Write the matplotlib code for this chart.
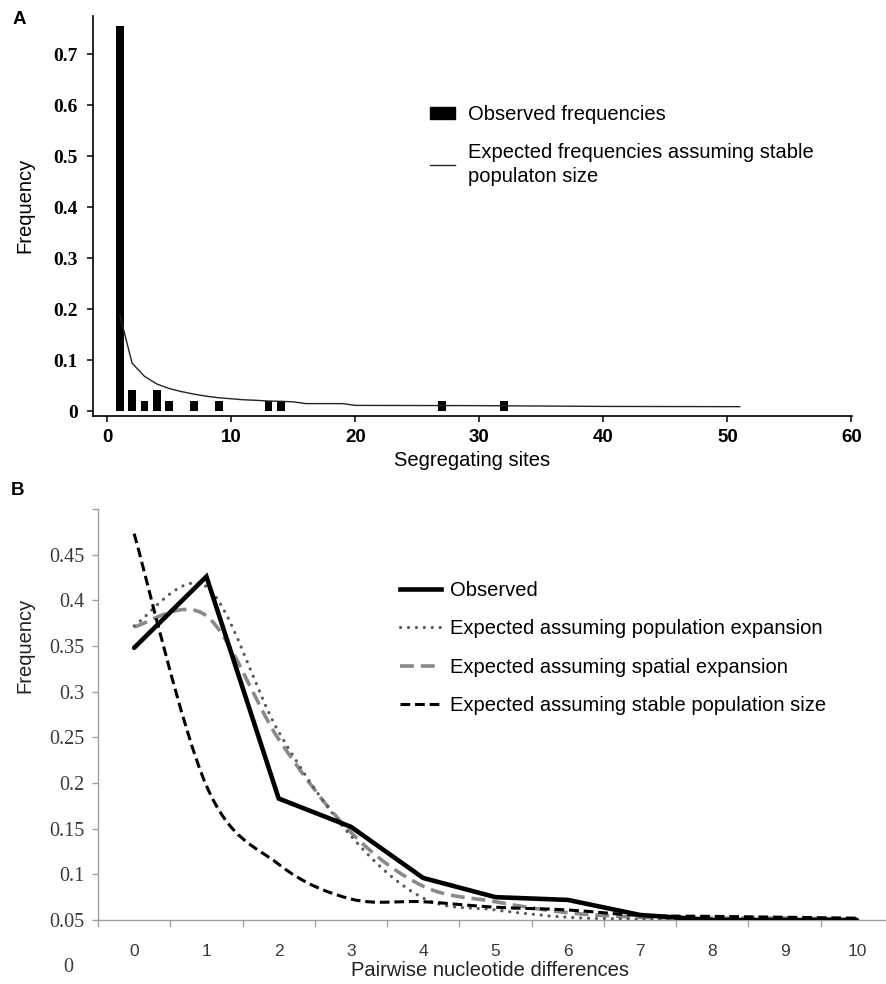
import numpy as np
import matplotlib
matplotlib.use("Agg")
import matplotlib.pyplot as plt
from matplotlib.path import Path
from matplotlib.patches import PathPatch, Patch
from matplotlib.lines import Line2D

plt.rcParams["lines.scale_dashes"] = False

W, H = 887, 984

# ---- panel A: segregating sites ----
seg_sites = [1, 2, 3, 4, 5, 7, 9, 13, 14, 27, 32]
seg_observed = [0.7551, 0.0408, 0.0204, 0.0408, 0.0204, 0.0204, 0.0204,
                0.0204, 0.0204, 0.0204, 0.0204]
seg_exp_x = [1, 2, 3, 4, 5, 6, 7, 8, 9, 10, 11, 12, 13, 14, 15, 16, 19, 20, 30, 40, 51]
seg_exp_y = [0.19, 0.094, 0.068, 0.053, 0.044, 0.038, 0.033, 0.029, 0.026, 0.024,
             0.022, 0.021, 0.0195, 0.019, 0.018, 0.0145, 0.0145, 0.011, 0.0105,
             0.009, 0.0085]
a_yticks = [0, 0.1, 0.2, 0.3, 0.4, 0.5, 0.6, 0.7]
a_xticks = [0, 10, 20, 30, 40, 50, 60]

# ---- panel B: mismatch distribution ----
diffs = [0, 1, 2, 3, 4, 5, 6, 7, 8, 9, 10]
mm_observed = [0.348, 0.426, 0.183, 0.152, 0.096, 0.075, 0.072, 0.0555, 0.05, 0.05, 0.05]
mm_pop_exp = [0.372, 0.415, 0.256, 0.142, 0.074, 0.061, 0.053, 0.051, 0.05, 0.05, 0.05]
mm_spatial = [0.371, 0.383, 0.248, 0.146, 0.087, 0.070, 0.058, 0.053, 0.052, 0.052, 0.051]
mm_stable = [0.473, 0.197, 0.111, 0.073, 0.070, 0.064, 0.061, 0.055, 0.054, 0.053, 0.052]
b_yticks = [0.05, 0.1, 0.15, 0.2, 0.25, 0.3, 0.35, 0.4, 0.45, 0.5]
b_ylabels = ["0.05", "0.1", "0.15", "0.2", "0.25", "0.3", "0.35", "0.4", "0.45", ""]

SERIF = "Liberation Serif"
SANS = "Liberation Sans"


def px_axes(left, top, right, bottom):
    return [left / W, 1 - bottom / H, (right - left) / W, (bottom - top) / H]


def smooth_path(x, y):
    """Excel-style smoothed line: Catmull-Rom segments as cubic Bezier."""
    x = np.asarray(x, float)
    y = np.asarray(y, float)
    n = len(x)
    verts = [(x[0], y[0])]
    codes = [Path.MOVETO]
    for i in range(n - 1):
        p0 = max(i - 1, 0)
        p3 = min(i + 2, n - 1)
        c1 = (x[i] + (x[i + 1] - x[p0]) / 6, y[i] + (y[i + 1] - y[p0]) / 6)
        c2 = (x[i + 1] - (x[p3] - x[i]) / 6, y[i + 1] - (y[p3] - y[i]) / 6)
        verts += [c1, c2, (x[i + 1], y[i + 1])]
        codes += [Path.CURVE4] * 3
    return Path(verts, codes)


fig = plt.figure(figsize=(W / 100, H / 100), dpi=100)

# Panel A
ax = fig.add_axes(px_axes(93, 16, 852, 416))
ax.bar(seg_sites, seg_observed, width=0.62, color="black", zorder=2)
ax.plot(seg_exp_x, seg_exp_y, color="#222222", linewidth=1.0, zorder=3)
ax.set_xlim(-1.15, 60.05)
ax.set_ylim(-0.0098, 0.775)
ax.spines[["top", "right"]].set_visible(False)
for s in ("left", "bottom"):
    ax.spines[s].set_linewidth(1.2)
ax.set_yticks(a_yticks)
ax.set_yticklabels(["0", "0.1", "0.2", "0.3", "0.4", "0.5", "0.6", "0.7"],
                   fontfamily=SERIF, fontweight="bold", fontsize=14)
ax.set_xticks(a_xticks)
ax.set_xticklabels([str(t) for t in a_xticks], fontfamily=SANS,
                   fontweight="bold", fontsize=13.5)
ax.tick_params(axis="y", length=4, width=1.1, pad=7)
ax.tick_params(axis="x", length=4.5, width=1.1, pad=5)
leg = ax.legend(
    handles=[Patch(facecolor="black", edgecolor="black"),
             Line2D([], [], color="#222222", linewidth=1.0)],
    labels=["Observed frequencies",
            "Expected frequencies assuming stable\npopulaton size"],
    loc="upper left", bbox_to_anchor=(430 / W, 1 - 105 / H),
    bbox_transform=fig.transFigure, frameon=False, borderpad=0,
    borderaxespad=0, handlelength=1.25, handleheight=0.5, handletextpad=0.65,
    labelspacing=0.95, prop={"family": SANS, "size": 14.5})
for t in leg.get_texts():
    t.set_linespacing(1.3)
fig.text(472 / W, 1 - 461 / H, "Segregating sites", ha="center", va="center",
         fontfamily=SANS, fontsize=14.5)
fig.text(25 / W, 1 - 205 / H, "Frequency", ha="center", va="center",
         rotation=90, fontfamily=SANS, fontsize=14.5)
fig.text(19 / W, 1 - 19 / H, "A", ha="center", va="center", fontfamily=SANS,
         fontweight="bold", fontsize=13.5)

# Panel B
bx = fig.add_axes(px_axes(98, 509, 893, 920))
bx.set_xlim(-0.5, 10.5)
bx.set_ylim(0.05, 0.5)

styles = [
    (mm_spatial, dict(edgecolor="#8a8a8a", linewidth=2.6, linestyle=(0, (10, 5)))),
    (mm_pop_exp, dict(edgecolor="#5a5a5a", linewidth=2.3, linestyle=(0, (0.1, 5.6)),
                      capstyle="round")),
    (mm_stable, dict(edgecolor="black", linewidth=2.2, linestyle=(0, (7, 3.5)))),
]
for vals, kw in styles:
    bx.add_patch(PathPatch(smooth_path(diffs, vals), facecolor="none", zorder=3, **kw))
bx.plot(diffs, mm_observed, color="black", linewidth=3.3, solid_joinstyle="miter",
        solid_capstyle="round", zorder=4)

for s in ("top", "right"):
    bx.spines[s].set_visible(False)
for s in ("left", "bottom"):
    bx.spines[s].set_color("#a0a0a0")
    bx.spines[s].set_linewidth(1.0)
bx.set_yticks(b_yticks)
bx.set_yticklabels(b_ylabels, fontfamily=SERIF, fontsize=14.5, color="#3a3a3a")
bx.set_xticks(diffs)
bx.set_xticklabels([str(d) for d in diffs], fontfamily=SANS, fontsize=12.5,
                   color="#3a3a3a")
bx.set_xticks(np.arange(-0.5, 10.6, 1.0), minor=True)
bx.tick_params(axis="y", length=4, width=1.0, color="#a0a0a0", pad=6)
bx.tick_params(axis="x", which="major", length=0, pad=17)
bx.tick_params(axis="x", which="minor", length=5, width=1.0, color="#a0a0a0")

bx.legend(
    handles=[Line2D([], [], color="black", linewidth=3.3),
             Line2D([], [], color="#5a5a5a", linewidth=2.3, linestyle=(0, (0.1, 5.6)),
                    dash_capstyle="round"),
             Line2D([], [], color="#8a8a8a", linewidth=2.6, linestyle=(0, (10, 5))),
             Line2D([], [], color="black", linewidth=2.2, linestyle=(0, (7, 3.5)))],
    labels=["Observed",
            "Expected assuming population expansion",
            "Expected assuming spatial expansion",
            "Expected assuming stable population size"],
    loc="upper left", bbox_to_anchor=(400 / W, 1 - 581 / H),
    bbox_transform=fig.transFigure, frameon=False, borderpad=0,
    borderaxespad=0, handlelength=2.05, handletextpad=0.45, labelspacing=0.96,
    prop={"family": SANS, "size": 14.5})

fig.text(490 / W, 1 - 971 / H, "Pairwise nucleotide differences", ha="center",
         va="center", fontfamily=SANS, fontsize=14.5, color="#222222")
fig.text(25 / W, 1 - 645 / H, "Frequency", ha="center", va="center",
         rotation=90, fontfamily=SANS, fontsize=14.5, color="#222222")
fig.text(68 / W, 1 - 967 / H, "0", ha="center", va="center", fontfamily=SERIF,
         fontsize=14.5, color="#3a3a3a")
fig.text(18 / W, 1 - 490 / H, "B", ha="center", va="center", fontfamily=SANS,
         fontweight="bold", fontsize=13.5)

fig.savefig("out.png", dpi=100)
